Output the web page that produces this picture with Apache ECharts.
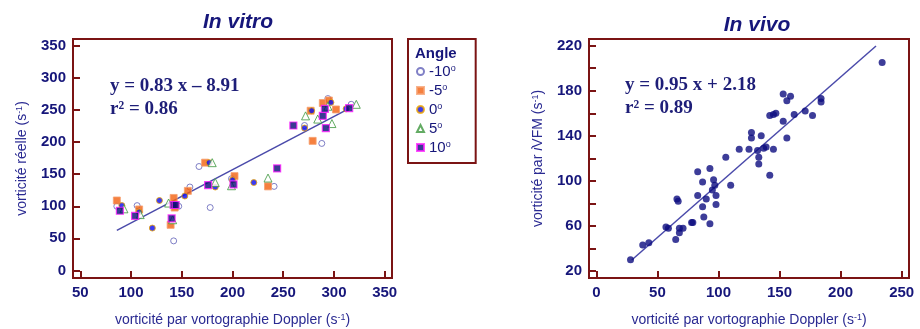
<!DOCTYPE html>
<html><head><meta charset="utf-8">
<script src="https://cdn.jsdelivr.net/npm/echarts@6/dist/echarts.min.js"></script>
<style>html,body{margin:0;padding:0;background:#fff}#c{width:920px;height:329px}</style>
</head><body><div id="c"></div>
<script>
// ---- In vitro data (vorticité Doppler vs réelle), by angle ----
const xm10 = [86,106,142,147,158,167,178,199,241,271,288,294,317];
const ym10 = [100,101,46,100,130,162,98,143,131,226,198,268,259];
const xm5 = [86,108,139,142,143,156,173,202,235,277,279,289,295,302];
const ym5 = [109,95,71,113,98,124,168,147,131,249,202,261,265,251];
const x0 = [91,108,121,128,153,177,183,200,221,271,278,297,312];
const y0 = [101,91,66,109,116,168,130,141,137,222,249,262,252];
const x5 = [93,109,137,141,180,183,199,235,272,284,294,298,322];
const y5 = [96,87,105,79,168,137,132,144,241,236,256,229,259];
const x10 = [89,104,140,142,144,176,201,244,260,289,291,292,315];
const y10 = [93,85,81,102,102,133,134,159,226,241,252,222,253];
const angleNames = ['-10','-5','0','5','10'];
const vitroFit = {slope:0.83, intercept:-8.91, xStart:86, xEnd:311};

// ---- In vivo data ----
const vivoX = [28,38,43,57,59,65,66,67,68,68,71,78,79,83,83,87,87,88,90,93,93,95,96,97,98,98,106,110,117,125,127,127,132,133,133,135,137,139,142,142,145,147,145,153,153,156,156,159,162,171,177,184,184,234];
const vivoY = [30,43,45,59,58,48,84,82,54,58,58,63,63,108,87,77,99,68,84,111,62,92,101,96,87,79,121,96,128,128,143,138,127,121,115,140,129,130,105,158,159,160,128,153,177,171,138,175,159,162,158,173,170,205];
const vivoFit = {slope:0.95, intercept:2.18, xStart:29, xEnd:229};

// ---- tick labels ----
const vitroXTicks = [50,100,150,200,250,300,350];
const vitroYTicks = [0,50,100,150,200,250,300,350];
const vivoXTicks = [0,50,100,150,200,250];
const vivoYLabels = [20,60,100,140,180,220];
const vivoYTicks = [20,40,60,80,100,120,140,160,180,200,220];

const zip = (a,b) => a.map((v,i)=>[v,b[i]]);
const fitLine = f => [f.xStart, f.xEnd].map(x => [x, f.slope*x + f.intercept]);

const FRAME = '#7b1414';
const NAVY = '#16167a';
const NAME = '#2a2a92';
const SANS = 'Liberation Sans, Arial, sans-serif';
const SERIF = 'Liberation Serif, DejaVu Serif, serif';

function xAx(gi, min, max, ticks){
  return {type:'value', gridIndex:gi, min:min, max:max, splitLine:{show:false}, axisLine:{show:false, onZero:false},
    axisTick:{show:true, inside:true, length:7, customValues:ticks, lineStyle:{color:FRAME,width:2}},
    axisLabel:{customValues:ticks, margin:7, color:NAVY, fontWeight:'bold', fontSize:15, fontFamily:SANS},
    name:'vorticité par vortographie Doppler (s{sup|-1})', nameLocation:'middle', nameGap:35,
    nameTextStyle:{color:NAME, fontSize:14, fontFamily:SANS, rich:{sup:{fontSize:9, verticalAlign:'top', color:NAME, fontFamily:SANS}}}};
}
function yAx(gi, min, max, ticks, labels, name, gap){
  return {type:'value', gridIndex:gi, min:min, max:max, splitLine:{show:false}, axisLine:{show:false, onZero:false},
    axisTick:{show:true, inside:true, length:7, customValues:ticks, lineStyle:{color:FRAME,width:2}},
    axisLabel:{customValues:labels, margin:7, color:NAVY, fontWeight:'bold', fontSize:15, fontFamily:SANS},
    name:name, nameLocation:'middle', nameGap:gap,
    nameTextStyle:{color:NAME, fontSize:14, fontFamily:SANS, rich:{sup:{fontSize:9, verticalAlign:'top', color:NAME, fontFamily:SANS}, it:{fontStyle:'italic', fontSize:14, color:NAME, fontFamily:SANS}}}};
}

const styles = [
  {symbol:'circle', size:6, itemStyle:{color:'#ffffff', borderColor:'#6060b8', borderWidth:1}},
  {symbol:'rect', size:7, itemStyle:{color:'#f2600f', borderColor:'#f6a070', borderWidth:1}},
  {symbol:'circle', size:6, itemStyle:{color:'#0a0aee', borderColor:'#f0a800', borderWidth:1}},
  {symbol:'triangle', size:8, itemStyle:{color:'#ffffff', borderColor:'#3c963c', borderWidth:1}},
  {symbol:'rect', size:7, itemStyle:{color:'#0a0a78', borderColor:'#ff22ff', borderWidth:1.2}}
];
const vitroData = [zip(xm10,ym10), zip(xm5,ym5), zip(x0,y0), zip(x5,y5), zip(x10,y10)];

const series = angleNames.map((n,i)=>({
  name:n, type:'scatter', xAxisIndex:0, yAxisIndex:0, data:vitroData[i],
  symbol:styles[i].symbol, symbolSize:styles[i].size, itemStyle:styles[i].itemStyle, z:3+i
}));
series.push({type:'line', xAxisIndex:0, yAxisIndex:0, data:fitLine(vitroFit), showSymbol:false, symbol:'none',
  lineStyle:{color:'#4a4aaa', width:1.5}, z:2, silent:true});
series.push({type:'scatter', xAxisIndex:1, yAxisIndex:1, data:zip(vivoX,vivoY), symbol:'circle', symbolSize:7,
  itemStyle:{color:'#0c0c80'}, z:3});
series.push({type:'line', xAxisIndex:1, yAxisIndex:1, data:fitLine(vivoFit), showSymbol:false, symbol:'none',
  lineStyle:{color:'#4a4aaa', width:1.5}, z:2, silent:true});

const chart = echarts.init(document.getElementById('c'), null, {renderer:'canvas'});
chart.setOption({
  animation:false,
  backgroundColor:'#ffffff',
  title:[
    {text:'In vitro', left:233, top:7, textAlign:'center', textStyle:{color:NAVY, fontSize:21, fontWeight:'bold', fontStyle:'italic', fontFamily:SANS}},
    {text:'In vivo', left:752, top:10, textAlign:'center', textStyle:{color:NAVY, fontSize:21, fontWeight:'bold', fontStyle:'italic', fontFamily:SANS}},
    {text:'Angle', left:415, top:46, textStyle:{color:NAVY, fontSize:15, fontWeight:'bold', fontFamily:SANS}, padding:0}
  ],
  legend:{
    data:angleNames, orient:'vertical', left:408, top:39,
    padding:[25,20,8,8], itemWidth:7, itemHeight:7, itemGap:4,
    borderColor:FRAME, borderWidth:2, backgroundColor:'#fff',
    formatter: n => n + '{sup|o}',
    textStyle:{color:NAVY, fontSize:15, lineHeight:15, fontFamily:SANS,
      rich:{sup:{fontSize:9, lineHeight:15, verticalAlign:'top', color:NAVY, fontFamily:SANS}}}
  },
  grid:[
    {left:73, top:39, width:319, height:239, show:true, borderColor:FRAME, borderWidth:2, backgroundColor:'#fff', containLabel:false, outerBoundsMode:'none'},
    {left:589, top:39, width:320, height:239, show:true, borderColor:FRAME, borderWidth:2, backgroundColor:'#fff', containLabel:false, outerBoundsMode:'none'}
  ],
  xAxis:[ xAx(0, 42.8, 357.2, vitroXTicks), xAx(1, -6, 256, vivoXTicks) ],
  yAxis:[ yAx(0, -11.9, 360.9, vitroYTicks, vitroYTicks, 'vorticité réelle (s{sup|-1})', 44),
          yAx(1, 13.8, 225.9, vivoYTicks, vivoYLabels, 'vorticité par {it|i}VFM (s{sup|-1})', 44) ],
  graphic:[
    {type:'text', left:110, top:77, style:{text:'y = 0.83 x – 8.91', font:'bold 19px '+SERIF, fill:'#1e1e78'}},
    {type:'text', left:110, top:100, style:{text:'r² = 0.86', font:'bold 19px '+SERIF, fill:'#1e1e78'}},
    {type:'text', left:625, top:76, style:{text:'y = 0.95 x + 2.18', font:'bold 19px '+SERIF, fill:'#1e1e78'}},
    {type:'text', left:625, top:99, style:{text:'r² = 0.89', font:'bold 19px '+SERIF, fill:'#1e1e78'}}
  ],
  series:series
});
</script>
</body></html>
